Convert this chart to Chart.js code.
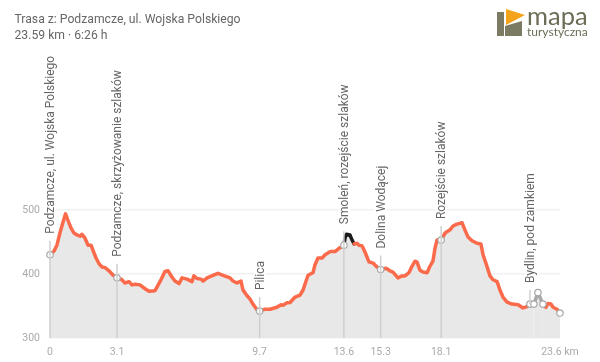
<!DOCTYPE html>
<html>
<head>
<meta charset="utf-8">
<style>
    body { margin: 0; background: #fff; font-family: Roboto, sans-serif; }
    #wrap { position: relative; width: 600px; height: 362px; overflow: hidden; }
    #title { position: absolute; left: 14.5px; top: 11px; font-size: 12.2px; line-height: 16px; color: #666; }
    #logo { position: absolute; left: 490px; top: 5px; }
</style>
<script src="https://cdn.jsdelivr.net/npm/chart.js@4"></script>
</head>
<body>
<div id="wrap">
    <canvas id="profileChart" width="600" height="362"></canvas>
    <div id="title">Trasa z: Podzamcze, ul. Wojska Polskiego<br>23.59 km · 6:26 h</div>
    <svg id="logo" width="110" height="36" viewBox="490 5 110 36">
        <polygon points="497,12 504,12 504,36 497,36" fill="#7b7a63"/>
        <polygon points="505,36 505,26 522,21 522,36" fill="#7b7a63"/>
        <polygon points="506,9 525,15 506,25" fill="#f5a31a"/>
        <text x="527" y="25" font-family="Lato" font-size="25.5" fill="#6d6c56">mapa</text>
        <text x="527" y="35.5" font-family="Lato" font-size="12" fill="#6d6c56">turystyczna</text>
    </svg>
</div>
<script>
// Elevation profile
const distanceKm = [0, 0.19, 0.32, 0.46, 0.6, 0.72, 0.83, 0.97, 1.11, 1.25, 1.39, 1.48, 1.62, 1.76, 1.9, 1.99, 2.13, 2.27, 2.41, 2.55, 2.73, 2.92, 3.1, 3.29, 3.47, 3.66, 3.79, 3.93, 4.16, 4.4, 4.58, 4.86, 5.09, 5.32, 5.46, 5.65, 5.78, 5.97, 6.11, 6.34, 6.57, 6.66, 6.8, 6.99, 7.08, 7.27, 7.54, 7.77, 8.01, 8.33, 8.47, 8.65, 8.84, 8.93, 9.12, 9.25, 9.39, 9.58, 9.7, 9.95, 10.18, 10.5, 10.69, 10.78, 10.97, 11.11, 11.34, 11.57, 11.71, 11.94, 12.17, 12.26, 12.4, 12.59, 12.73, 12.96, 13.19, 13.33, 13.6, 13.65, 13.72, 13.88, 13.98, 14.07, 14.21, 14.3, 14.44, 14.58, 14.76, 14.95, 15.13, 15.3, 15.55, 15.73, 15.87, 16.1, 16.29, 16.43, 16.61, 16.75, 16.89, 16.98, 17.12, 17.26, 17.45, 17.58, 17.72, 17.82, 17.91, 18.1, 18.28, 18.51, 18.65, 18.83, 19.07, 19.2, 19.34, 19.53, 19.76, 19.94, 20.04, 20.22, 20.36, 20.5, 20.69, 20.82, 20.96, 21.15, 21.38, 21.66, 21.89, 22.07, 22.21, 22.39, 22.58, 22.81, 22.95, 23.04, 23.18, 23.28, 23.46, 23.6];
const elevation = [430, 436, 445, 464, 481, 494, 484, 472, 464, 461, 459, 462, 456, 445, 445, 437, 425, 416, 411, 410, 405, 398, 394, 392, 386, 388, 383, 384, 383, 377, 373, 374, 388, 404, 405, 395, 389, 385, 394, 392, 388, 397, 393, 392, 389, 394, 398, 401, 398, 394, 389, 386, 389, 375, 366, 361, 353, 344, 342, 345, 345, 348, 352, 351, 355, 355.5, 364, 367, 375, 398, 402, 414, 425, 425, 430, 435, 435, 439, 445, 456, 462, 461, 453, 447, 448, 445, 444, 434, 419, 417, 411, 407, 409, 405, 403, 394, 397, 397, 402, 412, 420, 419, 406, 403, 402, 412, 420, 441, 453, 453, 464, 469, 475, 478, 480, 469, 458, 452, 448, 447, 430, 412, 397, 391, 388, 375, 364, 356, 353, 352, 347, 349, 353, 353, 371, 353, 348, 354, 353, 348, 345, 339];

// Waypoints with a label and a line down to the axis
const placeNames = ['Podzamcze, ul. Wojska Polskiego', 'Podzamcze, skrzyżowanie szlaków', 'Pilica', 'Smoleń, rozejście szlaków', 'Dolina Wodącej', 'Rozejście szlaków', 'Bydlin, pod zamkiem'];
const placeKm = [0, 3.1, 9.7, 13.6, 15.3, 18.1, 22.21];
const placeElevation = [430, 394, 342, 445, 407, 453, 353];

// Small circles along the route
const markerKm = [0, 3.1, 9.7, 13.6, 15.3, 18.1, 22.21, 22.39, 22.58, 22.81, 23.6];
const markerElevation = [430, 394, 342, 445, 407, 453, 353, 353, 371, 353, 339];

const xTicks = [0, 3.1, 9.7, 13.6, 15.3, 18.1, 23.6];
const yTicks = [300, 400, 500];

const blackStretch = [13.6, 14.07];
const greyStretch = [22.39, 22.81];

// Route colour changes on the highlighted stretches
function segmentColor(ctx) {
    const x = ctx.p0.parsed.x;
    if (x >= blackStretch[0] && x < blackStretch[1]) return '#1a1a1a';
    if (x >= greyStretch[0] && x < greyStretch[1]) return '#a8a8a8';
    return '#fa6a4b';
}

// Rotated place names and their guide lines
const placeLabels = {
    id: 'placeLabels',
    afterDatasetsDraw(chart) {
        const c = chart.ctx;
        const xs = chart.scales.x;
        const ys = chart.scales.y;
        c.save();
        placeNames.forEach((name, i) => {
            const px = xs.getPixelForValue(placeKm[i]);
            const py = ys.getPixelForValue(placeElevation[i]);
            const labelBottom = py - 21;

            c.strokeStyle = '#cfcfcf';
            c.lineWidth = 1.5;
            c.beginPath();
            c.moveTo(px, labelBottom + 7);
            c.lineTo(px, i === 6 ? py : ys.bottom);
            c.stroke();

            c.save();
            c.translate(px, labelBottom);
            c.rotate(-Math.PI / 2);
            c.font = '12px Roboto';
            c.textAlign = 'left';
            c.textBaseline = 'middle';
            c.strokeStyle = '#fff';
            c.lineWidth = 4;
            c.lineJoin = 'round';
            c.strokeText(name, 0, 1);
            c.fillStyle = '#666';
            c.fillText(name, 0, 1);
            c.restore();
        });
        c.restore();
    }
};

new Chart(document.getElementById('profileChart').getContext('2d'), {
    type: 'line',
    data: {
        datasets: [
            {
                data: markerKm.map((km, i) => ({ x: km, y: markerElevation[i] })),
                showLine: false,
                clip: false,
                pointRadius: 3.2,
                pointBackgroundColor: '#fff',
                pointBorderColor: '#a8a8a8',
                pointBorderWidth: 1.2,
                order: 0
            },
            {
                data: distanceKm.map((km, i) => ({ x: km, y: elevation[i] })),
                borderColor: '#fa6a4b',
                borderWidth: 3.5,
                borderJoinStyle: 'round',
                borderCapStyle: 'round',
                backgroundColor: '#e8e8e8',
                fill: 'origin',
                tension: 0,
                pointRadius: 0,
                clip: false,
                segment: { borderColor: segmentColor },
                order: 1
            }
        ]
    },
    options: {
        responsive: false,
        animation: false,
        layout: { padding: { top: 18, right: 40, left: 0, bottom: 0 } },
        plugins: { legend: { display: false }, tooltip: { enabled: false } },
        scales: {
            x: {
                type: 'linear',
                min: 0,
                max: 23.6,
                afterBuildTicks: scale => { scale.ticks = xTicks.map(v => ({ value: v })); },
                afterFit: scale => { scale.height = 24; },
                grid: { display: false, drawTicks: false },
                border: { display: false },
                ticks: {
                    autoSkip: false,
                    maxRotation: 0,
                    padding: 8,
                    color: '#aaa',
                    font: { family: 'Roboto', size: 10.5 },
                    callback: v => (v === 23.6 ? '23.6 km' : v)
                }
            },
            y: {
                min: 300,
                max: 800,
                afterBuildTicks: scale => { scale.ticks = yTicks.map(v => ({ value: v })); },
                afterFit: scale => { scale.width = 50; },
                grid: { color: '#f1f1f1', lineWidth: 1.5, drawTicks: false },
                border: { display: false },
                ticks: {
                    padding: 10,
                    color: '#aaa',
                    font: { family: 'Roboto', size: 10.5 }
                }
            }
        }
    },
    plugins: [placeLabels]
});
</script>
</body>
</html>
